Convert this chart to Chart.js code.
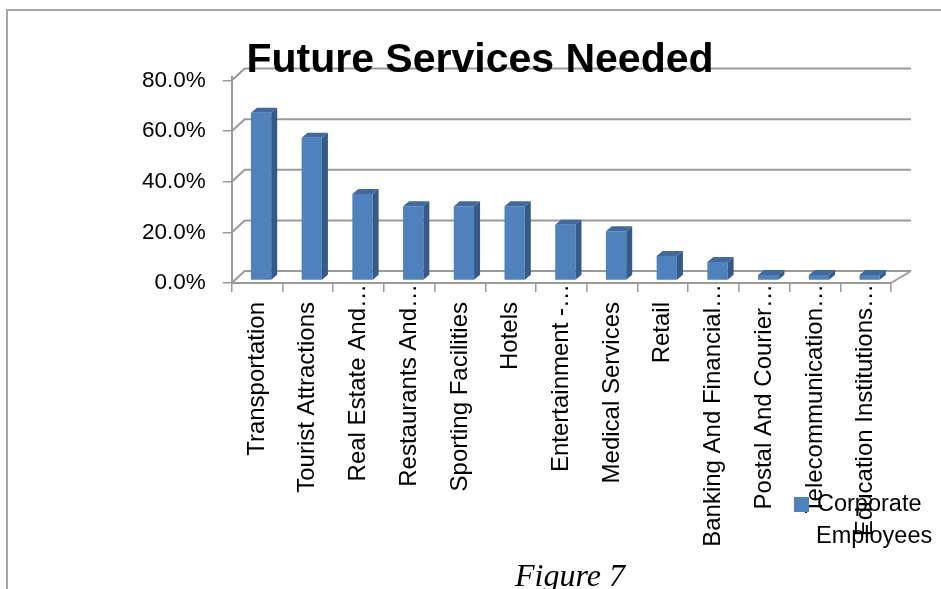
<!DOCTYPE html>
<html lang="en">
<head>
<meta charset="UTF-8" />
<title>Future Services Needed</title>
<script src="https://cdn.jsdelivr.net/npm/chart.js@4"></script>
<style>
    html, body { margin: 0; padding: 0; background: #fff; overflow: hidden; }
    body { width: 941px; height: 589px; position: relative; }
    #frame {
        position: absolute; left: 6px; top: 9px;
        width: 1000px; height: 700px;
        border: 2px solid #a6a6a6;
    }
    #chart { position: absolute; left: 9px; top: 12px; }
    #caption {
        position: absolute; left: 515px; top: 559px;
        font: italic 32px "Liberation Serif", serif;
        line-height: 32px; color: #000; white-space: nowrap;
    }
</style>
</head>
<body>
<div id="frame"></div>
<canvas id="chart" width="942" height="560"></canvas>
<div id="caption">Figure 7</div>

<script>
    const categories = [
        "Transportation", "Tourist Attractions", "Real Estate And…", "Restaurants And…",
        "Sporting Facilities", "Hotels", "Entertainment -…", "Medical Services", "Retail",
        "Banking And Financial…", "Postal And Courier…", "Telecommunication…",
        "Education Institutions…"
    ];
    const corporateEmployees = [66.0, 56.1, 33.9, 29.0, 29.0, 29.0, 21.7, 19.2, 9.4, 7.0, 1.9, 1.9, 1.9];
    const yTicks = [0, 20, 40, 60, 80];
    const seriesName = "Corporate Employees";

    const FRONT = "#4f81bd", TOP = "#41699c", SIDE = "#355a85", WALL = "#9a9a9a";

    // back wall + left wall + floor, drawn behind everything
    const walls = {
        id: "walls",
        beforeDraw(chart) {
            const { ctx, chartArea: a } = chart;
            const yf = chart.scales.yFront;
            ctx.save();
            ctx.strokeStyle = WALL;
            ctx.lineWidth = 2;
            yTicks.forEach(v => {
                const py = yf.getPixelForValue(v);
                ctx.beginPath();
                ctx.moveTo(a.left, py);
                ctx.lineTo(a.left + 13, py - 12);
                ctx.lineTo(a.right + 20, py - 12);
                ctx.stroke();
            });
            ctx.beginPath();
            ctx.moveTo(a.right, a.bottom);
            ctx.lineTo(a.right + 20, a.bottom - 12);
            ctx.stroke();
            ctx.restore();
        }
    };

    // columns sit a bit behind the front edge; add top and side faces
    const columns3d = {
        id: "columns3d",
        beforeDatasetDraw(chart) {
            chart.ctx.save();
            chart.ctx.translate(4, 0);
        },
        afterDatasetDraw(chart, args) {
            const ctx = chart.ctx;
            const dx = 6, dy = -5;
            args.meta.data.forEach(bar => {
                const { x, y, base, width } = bar.getProps(["x", "y", "base", "width"], true);
                const l = x - width / 2, r = x + width / 2;
                ctx.fillStyle = TOP;
                ctx.beginPath();
                ctx.moveTo(l, y);
                ctx.lineTo(l + dx, y + dy);
                ctx.lineTo(r + dx, y + dy);
                ctx.lineTo(r, y);
                ctx.closePath();
                ctx.fill();
                ctx.fillStyle = SIDE;
                ctx.beginPath();
                ctx.moveTo(r, y);
                ctx.lineTo(r + dx, y + dy);
                ctx.lineTo(r + dx, base + dy);
                ctx.lineTo(r, base);
                ctx.closePath();
                ctx.fill();
            });
            ctx.restore();
        }
    };

    // two-line legend in the lower right corner
    const cornerLegend = {
        id: "cornerLegend",
        afterDraw(chart) {
            const ctx = chart.ctx;
            const ds = chart.data.datasets[0];
            const x = chart.chartArea.right - 97, y = 485;
            ctx.save();
            ctx.fillStyle = ds.backgroundColor;
            ctx.fillRect(x, y, 15, 15);
            ctx.fillStyle = "#000";
            ctx.font = "23.5px 'Liberation Sans'";
            ctx.textBaseline = "middle";
            ds.label.split(" ").forEach((word, i) => ctx.fillText(word, x + 23 - i, y + 8 + i * 32));
            ctx.restore();
        }
    };

    Chart.defaults.font.family = "'Liberation Sans', Arial, sans-serif";
    Chart.defaults.color = "#000";

    new Chart(document.getElementById("chart"), {
        type: "bar",
        data: {
            labels: categories,
            datasets: [{
                label: seriesName,
                data: corporateEmployees,
                backgroundColor: FRONT,
                borderWidth: 0,
                yAxisID: "y",
                categoryPercentage: 1,
                barPercentage: 0.4
            }]
        },
        options: {
            responsive: false,
            animation: false,
            devicePixelRatio: 1,
            // equal side padding keeps the title centred on the canvas
            layout: { padding: { left: 60, right: 60, top: 0, bottom: 0 } },
            plugins: {
                legend: { display: false },
                tooltip: { enabled: false },
                title: {
                    display: true,
                    text: "Future Services Needed",
                    color: "#000",
                    font: { size: 41, weight: "bold", lineHeight: 1 },
                    padding: { top: 28, bottom: -3.7 }
                }
            },
            scales: {
                x: {
                    afterFit: s => { s.height = 289; },
                    grid: { drawOnChartArea: false, tickLength: 9, color: WALL, lineWidth: 1.5 },
                    border: { color: WALL, width: 2 },
                    ticks: {
                        autoSkip: false,
                        minRotation: 90,
                        maxRotation: 90,
                        padding: -8,
                        font: { size: 24 },
                        callback(value) {
                            const t = this.getLabelForValue(value);
                            return t.endsWith("…") ? t : t + "\u2002\u2005";
                        }
                    }
                },
                y: { display: false, min: -1.3, max: 80 },
                yFront: {
                    position: "left",
                    min: 0,
                    max: 81.3,
                    afterFit: s => { s.width = 162.7; },
                    afterBuildTicks: s => { s.ticks = yTicks.map(v => ({ value: v })); },
                    grid: { drawOnChartArea: false, tickLength: 9, color: WALL, lineWidth: 1.5 },
                    border: { color: WALL, width: 2 },
                    ticks: {
                        padding: 17,
                        font: { size: 22.5 },
                        callback: v => v.toFixed(1) + "%"
                    }
                }
            }
        },
        plugins: [walls, columns3d, cornerLegend]
    });
</script>
</body>
</html>
